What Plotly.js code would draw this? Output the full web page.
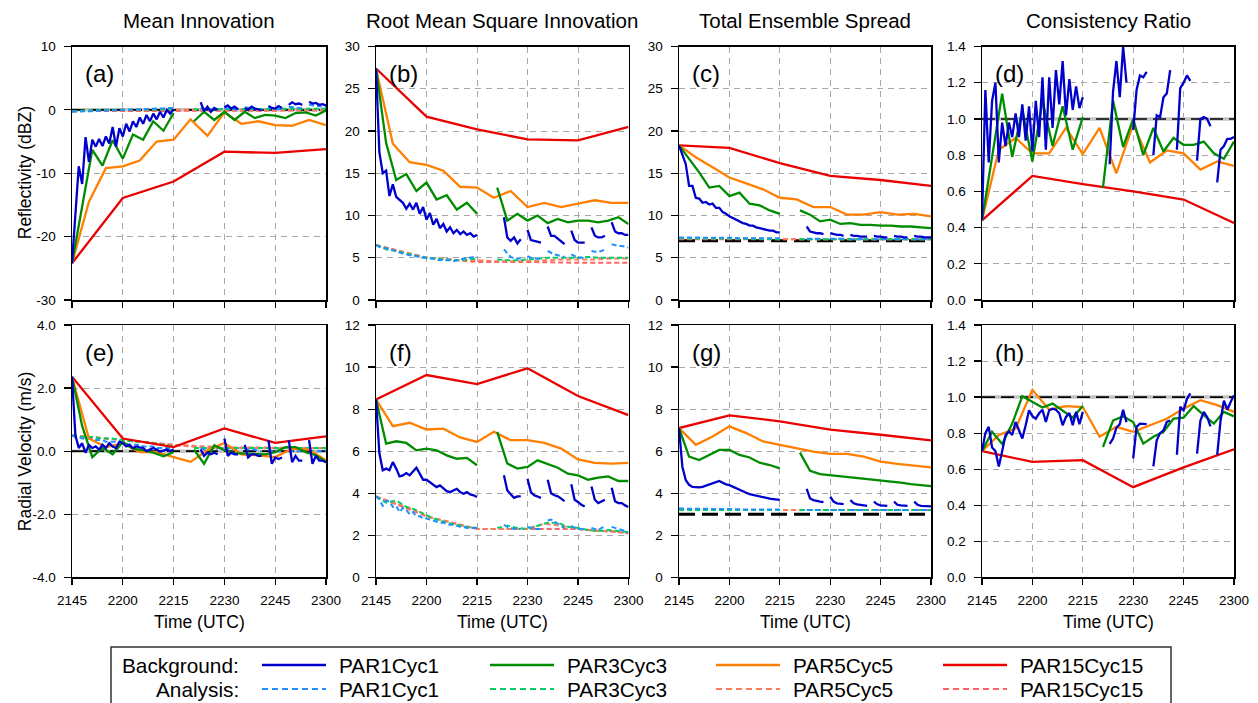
<!DOCTYPE html>
<html>
<head>
<meta charset="utf-8">
<script src="https://cdn.plot.ly/plotly-3.0.1.min.js"></script>
<style>
  html, body { margin: 0; padding: 0; background: #fff; }
  #chart { width: 1258px; height: 703px; }
</style>
</head>
<body>
<div id="chart"></div>
<script>
// ---------------- time axes (minutes after 21:45 UTC) ----------------
const MIN1 = [0,1,2,3,4,5,6,7,8,9,10,11,12,13,14,15,16,17,18,19,20,21,22,23,24,25,26,27,28,29,30,
  31,32,33,34,35,36,37,38,39,40,41,42,43,44,45,46,47,48,49,50,51,52,53,54,55,56,57,58,59,60,
  61,62,63,64,65,66,67,68,69,70,71,72,73,74,75];
const MIN3 = [0,3,6,9,12,15,18,21,24,27,30,33,36,39,42,45,48,51,54,57,60,63,66,69,72,75];
const MIN5 = [0,5,10,15,20,25,30,35,40,45,50,55,60,65,70,75];
const MIN15 = [0,15,30,45,60,75];
const TIME_LABELS = ['2145','2200','2215','2230','2245','2300'];

// ---------------- column / row labels ----------------
const COLUMN_TITLES = ['Mean Innovation','Root Mean Square Innovation','Total Ensemble Spread','Consistency Ratio'];
const ROW_TITLES = ['Reflectivity (dBZ)','Radial Velocity (m/s)'];
const PANEL_TAGS = ['(a)','(b)','(c)','(d)','(e)','(f)','(g)','(h)'];
const EXPERIMENTS = ['PAR1Cyc1','PAR3Cyc3','PAR5Cyc5','PAR15Cyc15'];

// ---------------- y tick labels ----------------
const YT_A = [-30,-20,-10,0,10];        const YL_A = ['-30','-20','-10','0','10'];
const YT_30 = [0,5,10,15,20,25,30];     const YL_30 = ['0','5','10','15','20','25','30'];
const YT_CR = [0,0.2,0.4,0.6,0.8,1.0,1.2,1.4];
const YL_CR = ['0.0','0.2','0.4','0.6','0.8','1.0','1.2','1.4'];
const YT_E = [-4,-2,0,2,4];             const YL_E = ['-4.0','-2.0','0.0','2.0','4.0'];
const YT_12 = [0,2,4,6,8,10,12];        const YL_12 = ['0','2','4','6','8','10','12'];

// ======================= (a) reflectivity mean innovation =======================
const A_BG1 = [-24.2,
  -16.0,-8.9,-11.7,-4.3,-8.2,-4.7,-5.8,-4.6,-5.7,-4.2,
  -5.3,-2.7,-5.8,-2.9,-4.2,-2.2,-3.4,-1.8,-2.7,-1.2,
  -2.2,-0.8,-1.8,-0.6,-1.5,-0.3,-1.2,0.0,-0.6,0.1,
  null,null,null,null,null,null,null,
  1.2,-0.2,0.5,-0.3,0.3,0.0,null,
  0.4,0.7,0.2,0.5,0.1,null,
  0.3,0.0,0.5,0.2,0.1,-0.1,null,
  0.6,0.3,0.2,0.6,0.3,null,
  0.8,1.2,0.9,1.0,0.8,null,
  1.3,1.0,1.1,0.8,0.9,0.7];
const A_AN1 = [-0.3,
  -0.3,-0.3,-0.25,-0.2,-0.2,-0.2,-0.15,-0.15,-0.1,-0.1,
  -0.1,-0.05,-0.05,0.0,0.0,0.0,0.05,0.05,0.1,0.1,
  0.1,0.15,0.15,0.2,0.2,0.25,0.25,0.3,0.3,0.3,
  null,null,null,null,null,null,null,
  0.3,0.1,0.0,0.0,0.1,0.0,null,
  0.3,0.2,0.2,0.1,0.1,null,
  0.4,0.3,0.2,0.2,0.1,0.1,null,
  0.3,0.2,0.1,0.1,0.2,null,
  0.5,0.4,0.3,0.3,0.3,null,
  0.8,0.7,0.6,0.5,0.5,0.5];
const A_BG3 = [-24.2,-15.0,-6.3,-8.8,-4.8,-7.7,-3.9,-4.7,-1.8,-3.3,-0.5,null,-1.8,-0.3,-1.6,-0.3,-1.6,-0.3,-1.3,-0.8,-0.9,-1.3,-0.5,-0.4,-0.9,-0.1];
const A_AN3 = [-0.2,-0.1,0,0,0,0,0.1,0.1,0.1,0.1,0.1,null,0.1,0.1,0.1,0.1,0.1,0.1,0.1,0.1,0.1,0.1,0.2,0.2,0.2,0.2];
const A_BG5 = [-24.2,-14.5,-9.2,-8.9,-8.0,-5.0,-4.7,-1.5,-4.1,-0.4,-2.2,-1.8,-2.4,-2.5,-1.6,-2.4];
const A_AN5 = [-0.2,-0.1,-0.1,0,0,0,0,0,0,0,0,0,0,0,0,0];
const A_BG15 = [-24.2,-13.9,-11.3,-6.6,-6.8,-6.2];
const A_AN15 = [-0.2,-0.2,-0.2,-0.2,-0.1,-0.1];

// ======================= (b) reflectivity RMS innovation =======================
const B_BG1 = [27.4,
  17.5,15.0,15.3,12.3,13.7,12.2,11.9,11.5,10.8,11.4,
  10.7,11.5,10.2,11.0,9.5,10.3,8.9,9.6,8.5,9.0,
  8.1,8.6,7.9,8.3,7.8,8.1,7.7,7.9,7.5,7.7,
  null,null,null,null,null,null,null,
  9.8,7.4,7.0,7.4,6.7,7.2,null,
  8.3,7.1,7.0,6.9,6.8,null,
  8.7,7.6,7.6,7.3,7.0,6.6,null,
  8.2,7.1,6.8,6.8,6.8,null,
  8.6,7.6,7.4,7.4,7.6,null,
  9.2,8.1,7.9,7.9,7.7,7.7];
const B_AN1 = [6.5,
  6.3,6.2,6.1,6.1,5.9,5.8,5.6,5.5,5.4,5.3,
  5.3,5.2,5.1,5.0,5.0,4.9,4.9,4.8,4.7,4.8,
  4.7,4.7,4.6,4.7,4.8,4.9,5.0,5.0,5.1,5.1,
  null,null,null,null,null,null,null,
  6.0,5.5,5.1,4.9,4.9,4.9,null,
  5.2,5.0,4.9,4.9,4.9,null,
  5.8,5.6,5.4,5.3,5.2,5.1,null,
  5.4,5.2,5.0,5.0,5.0,null,
  5.8,5.7,5.7,5.8,6.0,null,
  6.6,6.5,6.4,6.4,6.3,6.2];
const B_BG3 = [27.4,18.6,14.2,14.9,12.9,13.9,11.9,12.4,10.7,11.5,10.2,null,13.3,9.4,10.2,9.4,10.0,9.1,9.6,9.2,9.4,9.4,9.2,9.4,9.8,9.0];
const B_AN3 = [6.5,6.0,5.8,5.5,5.2,5.0,4.9,4.8,4.7,4.8,4.9,null,4.8,4.7,4.7,4.8,4.9,5.0,5.0,5.0,5.0,5.1,5.0,5.0,5.0,5.0];
const B_BG5 = [27.4,18.5,16.3,16.0,15.3,13.4,13.3,12.1,12.9,11.0,11.5,11.0,11.4,11.8,11.5,11.5];
const B_AN5 = [6.5,6.0,5.5,5.0,4.9,4.7,4.7,4.6,4.6,4.6,4.7,4.8,4.8,4.8,4.9,4.9];
const B_BG15 = [27.4,21.7,20.2,19.0,18.9,20.5];
const B_AN15 = [6.5,5.0,4.5,4.5,4.4,4.4];

// ======================= (c) reflectivity total spread =======================
const C_BG1 = [18.3,
  17.3,16.1,13.5,13.5,12.1,12.0,11.5,11.6,11.3,11.4,
  10.9,10.9,10.4,10.2,9.9,9.7,9.5,9.3,9.1,9.0,
  8.8,8.8,8.6,8.5,8.4,8.3,8.2,8.2,8.0,8.0,
  null,null,null,null,null,null,null,
  8.7,8.1,8.0,7.9,7.9,7.8,null,
  7.9,7.8,7.7,7.7,7.6,null,
  7.7,7.6,7.6,7.5,7.5,7.5,null,
  7.6,7.5,7.5,7.4,7.4,null,
  7.6,7.5,7.5,7.4,7.4,null,
  7.6,7.5,7.5,7.4,7.4,7.4];
const C_AN1 = [7.4,
  7.4,7.4,7.4,7.4,7.4,7.4,7.4,7.4,7.4,7.4,
  7.4,7.4,7.4,7.4,7.35,7.35,7.35,7.3,7.3,7.3,
  7.3,7.3,7.3,7.3,7.3,7.3,7.3,7.3,7.3,7.3,
  null,null,null,null,null,null,null,
  7.25,7.25,7.25,7.25,7.25,7.25,null,
  7.25,7.25,7.25,7.25,7.25,null,
  7.2,7.2,7.2,7.2,7.2,7.2,null,
  7.2,7.2,7.2,7.2,7.2,null,
  7.2,7.2,7.2,7.2,7.2,null,
  7.2,7.2,7.2,7.2,7.2,7.2];
const C_BG3 = [18.3,16.7,15.1,13.3,13.5,12.3,12.7,11.4,11.2,10.6,10.2,null,10.6,10.1,9.3,9.5,9.0,9.1,8.9,8.9,8.8,8.8,8.7,8.7,8.6,8.5];
const C_AN3 = [7.3,7.3,7.3,7.3,7.3,7.25,7.25,7.25,7.25,7.2,7.2,null,7.2,7.2,7.2,7.2,7.2,7.2,7.2,7.2,7.2,7.2,7.2,7.2,7.2,7.2];
const C_BG5 = [18.3,16.9,15.7,14.5,13.8,13.1,12.1,11.9,11.0,11.0,10.1,10.1,10.4,10.1,10.2,9.9];
const C_AN5 = [7.3,7.3,7.3,7.3,7.25,7.25,7.2,7.2,7.2,7.2,7.2,7.2,7.2,7.2,7.2,7.2];
const C_BG15 = [18.3,18.0,16.2,14.7,14.2,13.5];
const C_AN15 = [7.2,7.2,7.2,7.2,7.2,7.2];

// ======================= (d) reflectivity consistency ratio =======================
const D_BG1 = [0.44,
  1.16,0.76,1.10,1.20,0.76,0.98,0.85,0.98,0.90,1.03,
  0.90,1.08,0.88,1.07,0.82,1.10,0.90,1.23,0.83,1.23,
  0.95,1.27,1.08,1.32,1.02,1.22,1.05,1.18,1.06,1.12,
  null,null,null,null,null,null,null,
  0.75,1.15,1.32,1.12,1.40,1.20,null,
  0.94,1.16,1.24,1.23,1.26,null,
  0.80,1.02,1.01,1.12,1.14,1.27,null,
  0.83,1.17,1.20,1.24,1.21,null,
  0.77,1.00,1.01,1.00,0.96,null,
  0.65,0.83,0.85,0.89,0.89,0.90];
const D_BG3 = [0.44,0.80,1.14,0.79,1.05,0.765,1.10,0.85,1.07,0.83,1.01,null,0.62,1.10,0.845,1.00,0.80,0.95,0.82,0.895,0.857,0.857,0.875,0.81,0.78,0.875];
const D_BG5 = [0.44,0.83,0.895,0.81,0.81,0.95,0.805,0.95,0.70,0.97,0.76,0.826,0.81,0.72,0.765,0.74];
const D_BG15 = [0.44,0.685,0.64,0.60,0.555,0.425];

// ======================= (e) radial velocity mean innovation =======================
const E_BG1 = [2.36,
  0.5,0.1,0.25,-0.05,0.2,0.1,0.15,0.05,0.2,0.1,
  0.25,0.15,0.1,0.3,0.25,0.15,0.2,0.1,0.15,0.12,
  0.1,0.0,0.05,0.1,0.05,-0.02,0.02,0.05,0.0,0.05,
  null,null,null,null,null,null,null,
  0.05,-0.15,-0.05,-0.1,-0.05,-0.1,null,
  0.4,-0.15,-0.05,-0.1,-0.1,null,
  0.2,-0.2,-0.1,-0.1,-0.15,-0.15,null,
  0.35,-0.4,-0.2,-0.25,-0.2,null,
  0.35,-0.35,-0.15,-0.3,-0.3,null,
  0.35,-0.4,-0.15,-0.3,-0.3,-0.35];
const E_AN1 = [0.5,
  0.45,0.45,0.4,0.4,0.4,0.4,0.35,0.35,0.35,0.3,
  0.3,0.3,0.3,0.25,0.25,0.25,0.2,0.2,0.2,0.2,
  0.15,0.15,0.15,0.15,0.1,0.1,0.1,0.1,0.1,0.1,
  null,null,null,null,null,null,null,
  0.1,0.05,0.05,0.05,0.05,0.05,null,
  0.1,0.05,0.05,0.05,0.05,null,
  0.1,0.05,0.05,0.05,0.0,0.0,null,
  0.05,0.0,0.0,0.0,0.0,null,
  0.05,0.0,0.0,0.0,0.0,null,
  0.05,0.0,0.0,0.0,0.0,0.0];
const E_BG3 = [2.36,0.8,-0.19,0.1,-0.1,0.29,0.08,0.03,-0.05,-0.16,-0.03,null,0.05,-0.4,0.19,0.03,-0.06,-0.08,-0.08,-0.1,-0.03,0.13,0.13,-0.03,-0.13,-0.34];
const E_AN3 = [0.5,0.45,0.45,0.4,0.4,0.35,0.3,0.3,0.25,0.2,0.15,null,0.1,0.1,0.1,0.1,0.1,0.1,0.1,0.1,0.1,0.1,0.1,0.1,0.1,0.1];
const E_BG5 = [2.36,0.40,0.13,0.24,-0.03,-0.03,-0.19,-0.34,0.03,0.26,-0.1,-0.13,-0.19,0.08,0.05,-0.29];
const E_AN5 = [0.5,0.45,0.4,0.35,0.3,0.25,0.2,0.15,0.1,0.1,0.1,0.1,0.1,0.1,0.1,0.1];
const E_BG15 = [2.36,0.40,0.13,0.72,0.26,0.47];
const E_AN15 = [0.5,0.35,0.2,0.12,0.1,0.1];

// ======================= (f) radial velocity RMS innovation =======================
const F_BG1 = [8.46,
  5.9,5.09,5.17,5.09,5.48,5.17,4.80,4.85,4.96,4.85,
  5.01,5.21,4.93,4.64,4.64,4.53,4.42,4.29,4.37,4.21,
  4.10,4.05,4.13,4.21,4.05,3.97,4.05,3.94,3.90,3.82,
  null,null,null,null,null,null,null,
  4.85,4.13,3.95,3.78,3.85,3.85,null,
  4.69,4.05,3.90,3.82,3.78,null,
  4.64,4.00,3.90,3.85,3.74,3.62,null,
  4.42,3.69,3.58,3.45,3.37,null,
  4.32,3.69,3.53,3.62,3.69,null,
  4.26,3.62,3.53,3.53,3.42,3.34];
const F_AN1 = [3.85,
  3.7,3.4,3.65,3.6,3.35,3.4,3.1,3.3,3.2,3.0,
  3.1,2.9,2.9,2.8,2.8,2.75,2.7,2.65,2.6,2.6,
  2.55,2.5,2.5,2.45,2.4,2.4,2.35,2.35,2.35,2.35,
  null,null,null,null,null,null,null,
  2.5,2.4,2.35,2.3,2.3,2.3,null,
  2.4,2.35,2.3,2.3,2.3,null,
  2.7,2.75,2.65,2.55,2.45,2.35,null,
  2.45,2.35,2.3,2.3,2.25,null,
  2.35,2.3,2.25,2.35,2.4,null,
  2.4,2.35,2.3,2.25,2.2,2.15];
const F_BG3 = [8.46,6.36,6.47,6.39,6.04,6.12,6.04,5.80,5.64,5.68,5.33,null,6.92,5.41,5.17,5.25,5.56,5.37,5.21,4.93,4.85,4.64,4.74,4.80,4.58,4.58];
const F_AN3 = [3.85,3.55,3.65,3.35,3.2,2.95,2.75,2.6,2.5,2.4,2.35,null,2.35,2.45,2.35,2.3,2.45,2.6,2.6,2.4,2.35,2.25,2.2,2.25,2.2,2.15];
const F_BG5 = [8.46,7.19,7.35,7.03,7.07,6.65,6.44,6.92,6.52,6.52,6.39,6.12,5.61,5.44,5.41,5.44];
const F_AN5 = [3.85,3.55,3.3,2.9,2.7,2.5,2.3,2.3,2.3,2.3,2.55,2.45,2.3,2.2,2.2,2.1];
const F_BG15 = [8.46,9.62,9.19,9.94,8.62,7.71];
const F_AN15 = [3.85,2.9,2.3,2.3,2.3,2.1];

// ======================= (g) radial velocity total spread =======================
const G_BG1 = [7.1,
  5.26,4.63,4.4,4.3,4.28,4.28,4.3,4.35,4.4,4.45,
  4.52,4.58,4.5,4.42,4.38,4.3,4.22,4.15,4.08,4.02,
  3.96,3.92,3.88,3.84,3.8,3.77,3.74,3.72,3.7,3.68,
  null,null,null,null,null,null,null,
  4.2,3.75,3.67,3.62,3.6,3.57,null,
  3.83,3.6,3.52,3.5,3.48,null,
  3.67,3.52,3.47,3.44,3.42,3.4,null,
  3.6,3.47,3.42,3.4,3.4,null,
  3.6,3.45,3.42,3.4,3.4,null,
  3.6,3.45,3.4,3.38,3.37,3.37];
const G_AN1 = [3.27,
  3.27,3.27,3.27,3.27,3.27,3.27,3.27,3.27,3.27,3.27,
  3.27,3.26,3.26,3.25,3.25,3.25,3.24,3.24,3.23,3.23,
  3.22,3.22,3.22,3.22,3.22,3.22,3.22,3.22,3.22,3.22,
  null,null,null,null,null,null,null,
  3.2,3.2,3.2,3.2,3.2,3.2,null,
  3.2,3.2,3.2,3.2,3.2,null,
  3.2,3.2,3.2,3.2,3.2,3.2,null,
  3.2,3.2,3.2,3.2,3.2,null,
  3.2,3.2,3.2,3.2,3.2,null,
  3.2,3.2,3.2,3.2,3.2,3.2];
const G_BG3 = [7.1,5.74,5.58,5.82,6.06,6.06,5.82,5.7,5.45,5.34,5.18,null,5.93,5.06,4.91,4.86,4.82,4.75,4.70,4.66,4.59,4.55,4.50,4.43,4.39,4.34];
const G_AN3 = [3.2,3.2,3.2,3.2,3.2,3.2,3.2,3.2,3.2,3.2,3.2,null,3.2,3.2,3.2,3.2,3.2,3.2,3.2,3.2,3.2,3.2,3.2,3.2,3.2,3.2];
const G_BG5 = [7.1,6.3,6.7,7.18,6.86,6.46,6.3,6.14,5.98,5.87,5.87,5.74,5.50,5.39,5.31,5.23];
const G_AN5 = [3.2,3.2,3.2,3.2,3.2,3.2,3.2,3.2,3.2,3.2,3.2,3.2,3.2,3.2,3.2,3.2];
const G_BG15 = [7.1,7.7,7.42,7.02,6.78,6.51];
const G_AN15 = [3.2,3.2,3.2,3.2,3.2,3.2];

// ======================= (h) radial velocity consistency ratio =======================
const H_BG1 = [0.70,
  0.80,0.835,0.72,0.70,0.615,0.70,0.79,0.81,0.79,0.862,
  0.82,0.77,0.844,0.927,0.894,0.88,0.91,0.93,0.862,0.927,
  0.936,0.93,0.91,0.844,0.89,0.912,0.844,0.918,0.85,0.918,
  null,null,null,null,null,null,null,
  0.74,0.77,0.83,0.85,0.93,0.86,null,
  0.66,0.835,0.853,0.85,0.85,null,
  0.615,0.76,0.80,0.815,0.862,0.87,null,
  0.68,0.946,0.927,0.99,1.02,null,
  0.686,0.87,0.918,0.89,0.838,null,
  0.68,0.87,0.98,0.93,0.973,1.01];
const H_BG3 = [0.70,0.807,0.74,0.853,1.005,0.973,0.942,0.964,0.927,0.886,0.95,null,0.723,0.87,0.893,0.862,0.742,0.78,0.807,0.88,0.886,0.95,0.90,0.853,0.918,0.893];
const H_BG5 = [0.70,0.79,0.825,1.04,0.93,0.95,0.945,0.78,0.835,0.807,0.844,0.88,0.936,0.983,0.955,0.918];
const H_BG15 = [0.70,0.64,0.65,0.50,0.61,0.71];

// reference levels: zero bias, unit ratio, observation error
const REF_LEVELS = { a: 0, c: 7.0, d: 1.0, e: 0, g: 3.0, h: 1.0 };

// ---------------- styling ----------------
const FONT = 'Liberation Sans, Arial, Helvetica, sans-serif';
const BG_COLORS = { 1: '#0000cd', 3: '#008c00', 5: '#ff7f00', 15: '#ea0000' };
const AN_COLORS = { 1: '#1e90ff', 3: '#00cd66', 5: '#ff7a5a', 15: '#ff6464' };
const TIMES = { 1: MIN1, 3: MIN3, 5: MIN5, 15: MIN15 };

const W = 1258, H = 703;
const px = v => v / W;
const py = v => 1 - v / H;
const COLS = [[72, 326], [376, 628.5], [679, 931], [982, 1234]];
const ROWS = [[46.5, 300], [325, 577.3]];

const PANELS = [
  { id: 'a', col: 0, row: 0, yr: [-30, 10], yt: YT_A, yl: YL_A,
    bg: { 15: A_BG15, 5: A_BG5, 3: A_BG3, 1: A_BG1 }, an: { 15: A_AN15, 5: A_AN5, 3: A_AN3, 1: A_AN1 }, refStyle: 'thin' },
  { id: 'b', col: 1, row: 0, yr: [0, 30], yt: YT_30, yl: YL_30,
    bg: { 15: B_BG15, 5: B_BG5, 3: B_BG3, 1: B_BG1 }, an: { 15: B_AN15, 5: B_AN5, 3: B_AN3, 1: B_AN1 } },
  { id: 'c', col: 2, row: 0, yr: [0, 30], yt: YT_30, yl: YL_30,
    bg: { 15: C_BG15, 5: C_BG5, 3: C_BG3, 1: C_BG1 }, an: { 15: C_AN15, 5: C_AN5, 3: C_AN3, 1: C_AN1 }, refStyle: 'thick' },
  { id: 'd', col: 3, row: 0, yr: [0, 1.4], yt: YT_CR, yl: YL_CR,
    bg: { 15: D_BG15, 5: D_BG5, 3: D_BG3, 1: D_BG1 }, an: null, refStyle: 'thin' },
  { id: 'e', col: 0, row: 1, yr: [-4, 4], yt: YT_E, yl: YL_E,
    bg: { 15: E_BG15, 5: E_BG5, 3: E_BG3, 1: E_BG1 }, an: { 15: E_AN15, 5: E_AN5, 3: E_AN3, 1: E_AN1 }, refStyle: 'thin' },
  { id: 'f', col: 1, row: 1, yr: [0, 12], yt: YT_12, yl: YL_12,
    bg: { 15: F_BG15, 5: F_BG5, 3: F_BG3, 1: F_BG1 }, an: { 15: F_AN15, 5: F_AN5, 3: F_AN3, 1: F_AN1 } },
  { id: 'g', col: 2, row: 1, yr: [0, 12], yt: YT_12, yl: YL_12,
    bg: { 15: G_BG15, 5: G_BG5, 3: G_BG3, 1: G_BG1 }, an: { 15: G_AN15, 5: G_AN5, 3: G_AN3, 1: G_AN1 }, refStyle: 'thick' },
  { id: 'h', col: 3, row: 1, yr: [0, 1.4], yt: YT_CR, yl: YL_CR,
    bg: { 15: H_BG15, 5: H_BG5, 3: H_BG3, 1: H_BG1 }, an: null, refStyle: 'thin' }
];

const DRAW_ORDER = [15, 5, 3, 1];
const traces = [];
const layout = {
  width: W, height: H,
  margin: { l: 0, r: 0, t: 0, b: 0 },
  paper_bgcolor: '#ffffff', plot_bgcolor: '#ffffff',
  showlegend: false, hovermode: false,
  font: { family: FONT, color: '#000', size: 13.5 },
  annotations: [], shapes: []
};

PANELS.forEach((p, i) => {
  const n = i === 0 ? '' : String(i + 1);
  const xa = 'x' + n, ya = 'y' + n;

  layout['xaxis' + n] = {
    domain: [px(COLS[p.col][0]), px(COLS[p.col][1])], anchor: ya,
    range: [0, 75], tickmode: 'array', tickvals: MIN15, ticktext: TIME_LABELS,
    showticklabels: p.row === 1, ticklabelstandoff: 4,
    showgrid: true, gridcolor: '#a8a8a8', griddash: '6px,5px', gridwidth: 1,
    showline: true, mirror: true, linecolor: '#000', linewidth: 1.5,
    ticks: 'outside', ticklen: 6, tickwidth: 1.2, tickcolor: '#000',
    tickfont: { family: FONT, size: 13.5, color: '#000' },
    zeroline: false, fixedrange: true, automargin: false
  };
  layout['yaxis' + n] = {
    domain: [py(ROWS[p.row][1]), py(ROWS[p.row][0])], anchor: xa,
    range: p.yr, tickmode: 'array', tickvals: p.yt, ticktext: p.yl, ticklabelstandoff: 5,
    showgrid: true, gridcolor: '#a8a8a8', griddash: '6px,5px', gridwidth: 1,
    showline: true, mirror: true, linecolor: '#000', linewidth: 1.5,
    ticks: 'outside', ticklen: 7, tickwidth: 1.2, tickcolor: '#000',
    tickfont: { family: FONT, size: 13.5, color: '#000' },
    zeroline: false, fixedrange: true, automargin: false
  };

  // reference level
  if (p.id in REF_LEVELS) {
    const lv = REF_LEVELS[p.id];
    if (p.refStyle === 'thin') {
      traces.push({ x: [0, 75], y: [lv, lv], xaxis: xa, yaxis: ya, mode: 'lines',
        line: { color: '#c4c4c4', width: 3.5 }, hoverinfo: 'skip' });
      traces.push({ x: [0, 75], y: [lv, lv], xaxis: xa, yaxis: ya, mode: 'lines',
        line: { color: '#000', width: 1.6, dash: '13px,6px' }, hoverinfo: 'skip' });
    } else {
      traces.push({ x: [0, 75], y: [lv, lv], xaxis: xa, yaxis: ya, mode: 'lines',
        line: { color: '#000', width: 3, dash: '16px,7px' }, hoverinfo: 'skip' });
    }
  }

  // analysis (dashed) then background (solid)
  if (p.an) {
    DRAW_ORDER.forEach(k => {
      traces.push({ x: TIMES[k], y: p.an[k], xaxis: xa, yaxis: ya, mode: 'lines',
        connectgaps: false, line: { color: AN_COLORS[k], width: 2, dash: '5px,3px' }, hoverinfo: 'skip' });
    });
  }
  DRAW_ORDER.forEach(k => {
    traces.push({ x: TIMES[k], y: p.bg[k], xaxis: xa, yaxis: ya, mode: 'lines',
      connectgaps: false, line: { color: BG_COLORS[k], width: 2.3 }, hoverinfo: 'skip' });
  });

  // panel tag
  layout.annotations.push({ xref: 'paper', yref: 'paper', x: px(COLS[p.col][0] + 11), y: py(ROWS[p.row][0] + 27),
    xanchor: 'left', yanchor: 'middle', showarrow: false, text: PANEL_TAGS[i],
    font: { family: FONT, size: 24, color: '#000' } });
});

// column titles and time labels
COLUMN_TITLES.forEach((t, c) => {
  const cx = px((COLS[c][0] + COLS[c][1]) / 2);
  layout.annotations.push({ xref: 'paper', yref: 'paper', x: cx, y: py(21), xanchor: 'center', yanchor: 'middle',
    showarrow: false, text: t, font: { family: FONT, size: 20.5, color: '#000' } });
  layout.annotations.push({ xref: 'paper', yref: 'paper', x: cx, y: py(622), xanchor: 'center', yanchor: 'middle',
    showarrow: false, text: 'Time (UTC)', font: { family: FONT, size: 17.5, color: '#000' } });
});

// row titles
ROW_TITLES.forEach((t, r) => {
  layout.annotations.push({ xref: 'paper', yref: 'paper', x: px(25), y: py((ROWS[r][0] + ROWS[r][1]) / 2),
    xanchor: 'center', yanchor: 'middle', textangle: -90, showarrow: false, text: t,
    font: { family: FONT, size: 17.5, color: '#000' } });
});

// legend panel
layout.shapes.push({ type: 'rect', xref: 'paper', yref: 'paper', x0: px(111), x1: px(1171), y0: py(647), y1: -0.05,
  line: { color: '#333', width: 1.5 }, fillcolor: 'rgba(0,0,0,0)' });
const LEG_ROW_Y = [665, 689];
const LEG_LINE_X = [262, 490, 716, 943];
const LEG_KEYS = [1, 3, 5, 15];
['Background:', 'Analysis:'].forEach((lbl, r) => {
  layout.annotations.push({ xref: 'paper', yref: 'paper', x: px(241), y: py(LEG_ROW_Y[r]), xanchor: 'right', yanchor: 'middle',
    showarrow: false, text: lbl, font: { family: FONT, size: 20.8, color: '#000' } });
});
LEG_KEYS.forEach((k, j) => {
  const x0 = LEG_LINE_X[j], x1 = x0 + 64;
  layout.shapes.push({ type: 'line', xref: 'paper', yref: 'paper', x0: px(x0), x1: px(x1), y0: py(LEG_ROW_Y[0]), y1: py(LEG_ROW_Y[0]),
    line: { color: BG_COLORS[k], width: 2.5 } });
  layout.shapes.push({ type: 'line', xref: 'paper', yref: 'paper', x0: px(x0), x1: px(x1), y0: py(LEG_ROW_Y[1]), y1: py(LEG_ROW_Y[1]),
    line: { color: AN_COLORS[k], width: 2.2, dash: '6px,4px' } });
  [0, 1].forEach(r => {
    layout.annotations.push({ xref: 'paper', yref: 'paper', x: px(x1 + 11), y: py(LEG_ROW_Y[r]), xanchor: 'left', yanchor: 'middle',
      showarrow: false, text: EXPERIMENTS[j], font: { family: FONT, size: 20.8, color: '#000' } });
  });
});

Plotly.newPlot('chart', traces, layout, { displayModeBar: false, staticPlot: true });
</script>
</body>
</html>
